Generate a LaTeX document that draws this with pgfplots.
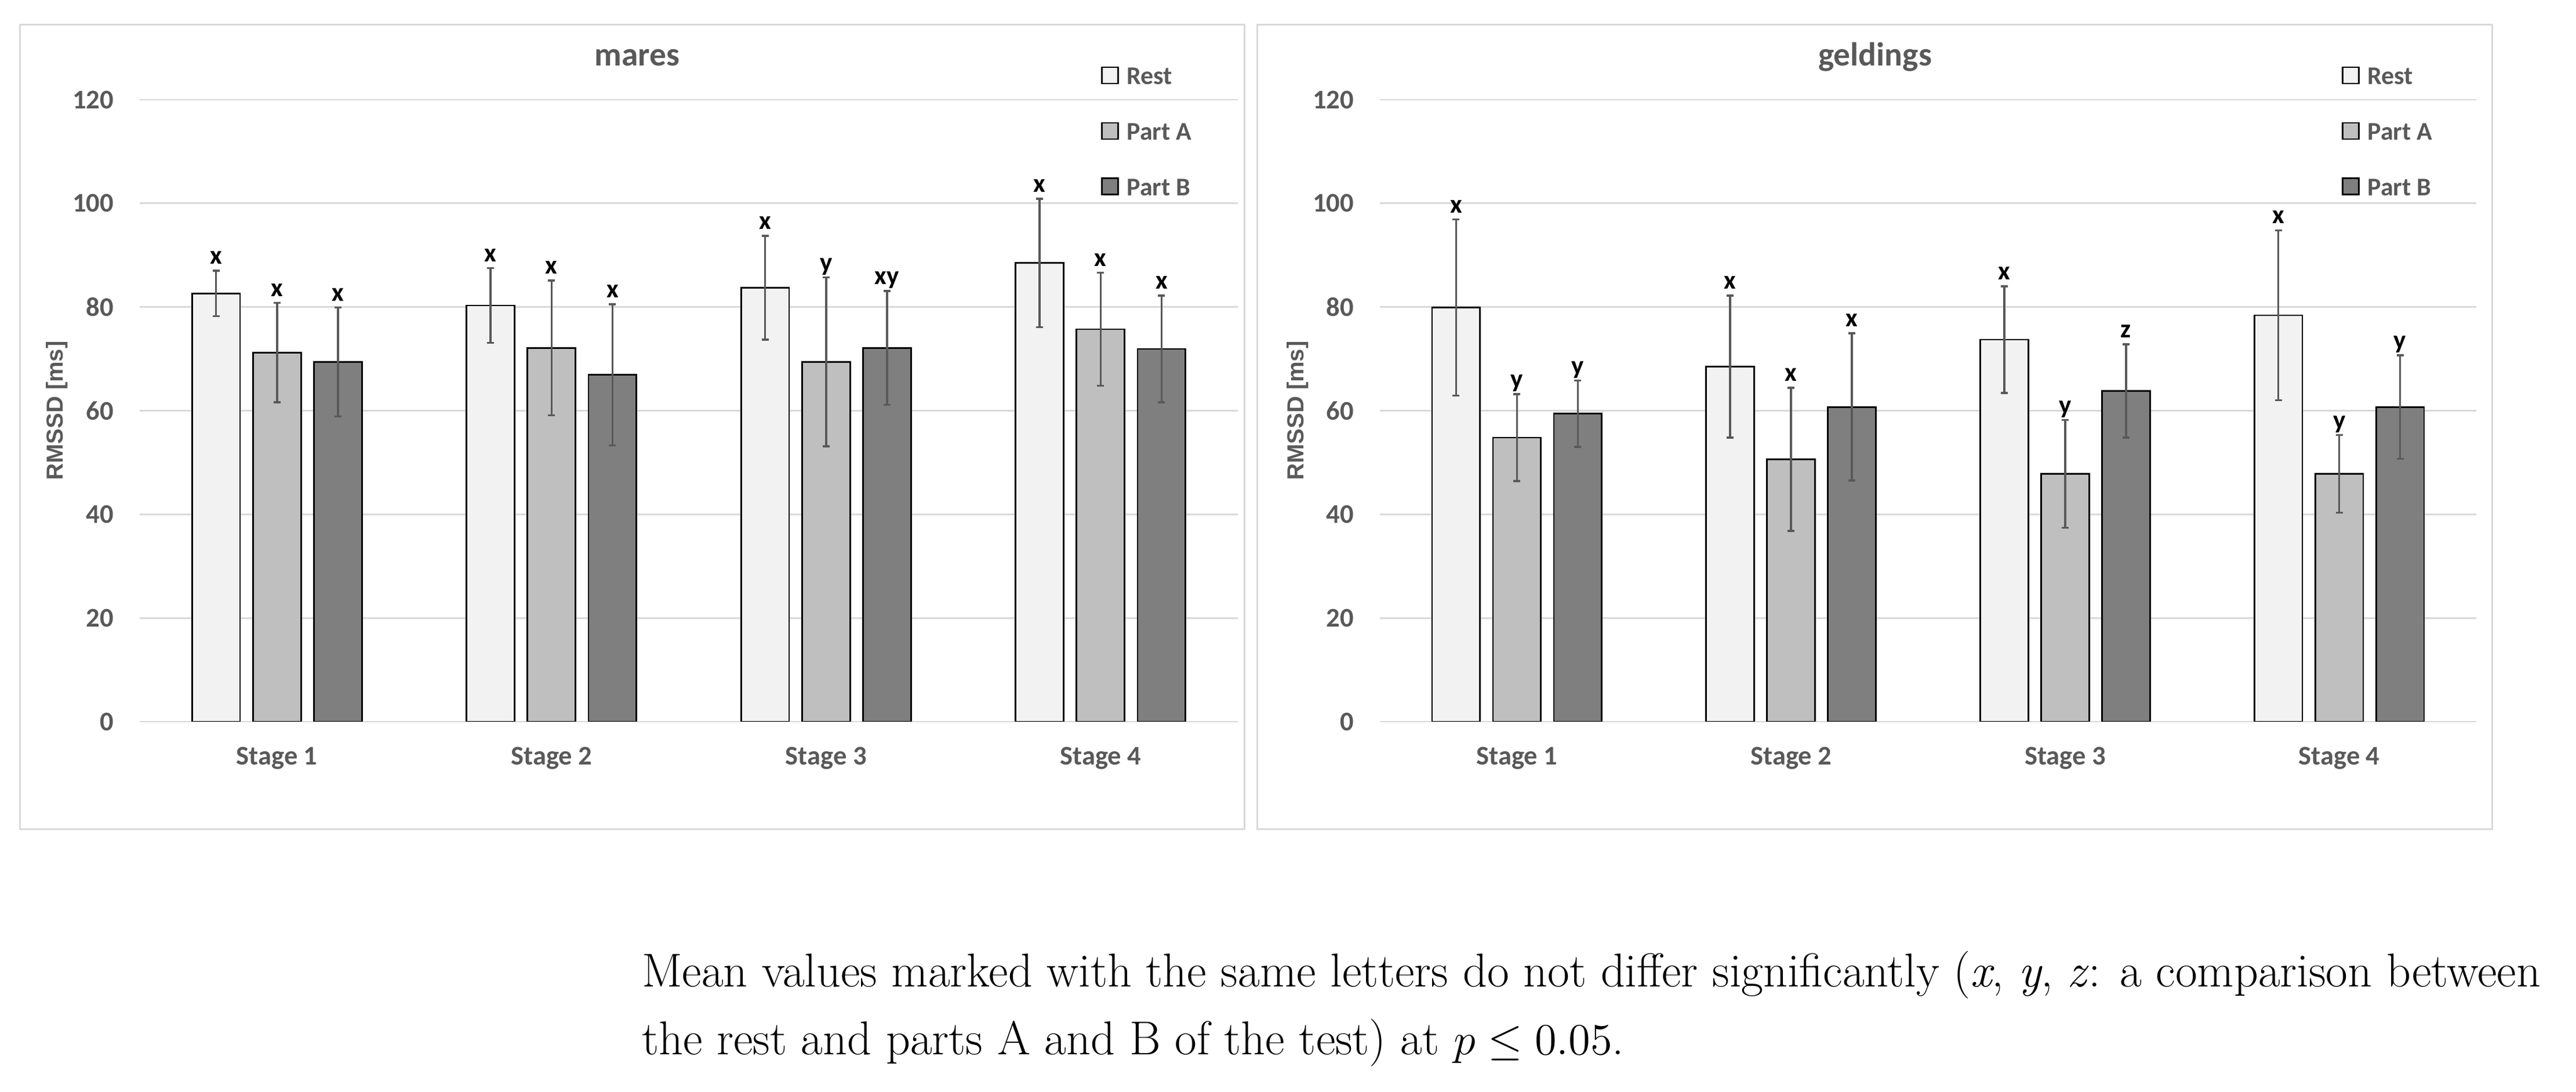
\documentclass[border=0pt]{standalone}
\usepackage{fontspec}
\usepackage{pgfplots}
\usepackage{pgfplotstable}
\pgfplotsset{compat=1.18}
\newfontfamily\carlito{Carlito}
\newfontfamily\libsans{Liberation Sans}
\definecolor{txtgray}{HTML}{595959}
\definecolor{restc}{HTML}{F2F2F2}
\definecolor{partac}{HTML}{BFBFBF}
\definecolor{partbc}{HTML}{7F7F7F}
\definecolor{gridc}{HTML}{D9D9D9}

\pgfplotstableread{
x R Re Rl A Ae Al B Be Bl
0 82.6 4.4 x 71.2 9.6 x 69.4 10.5 x
1 80.3 7.2 x 72.1 13.0 x 66.9 13.6 x
2 83.7 10.0 x 69.4 16.3 y 72.1 11.0 xy
3 88.5 12.4 x 75.7 10.9 x 71.9 10.3 x
}\mares

\pgfplotstableread{
x R Re Rl A Ae Al B Be Bl
0 79.9 17.0 x 54.8 8.4 y 59.4 6.4 y
1 68.5 13.7 x 50.6 13.8 x 60.7 14.2 x
2 73.7 10.3 x 47.8 10.4 y 63.8 9.0 z
3 78.4 16.4 x 47.8 7.5 y 60.7 10.0 y
}\geldings

\pgfplotsset{
  myaxis/.style={
    scale only axis, height=214.6pt,
    xmin=-0.5, xmax=3.5, ymin=0, ymax=120,
    ytick={0,20,40,60,80,100,120},
    xtick={0,1,2,3}, xticklabels={Stage 1,Stage 2,Stage 3,Stage 4},
    ymajorgrids, grid style={gridc, line width=0.55pt},
    axis line style={draw=none}, major tick length=0pt,
    /pgf/number format/assume math mode=true,
    ticklabel style={font=\carlito\bfseries\fontsize{9.3}{11}\selectfont, text=txtgray},
    yticklabel style={anchor=east, inner sep=0pt, xshift=-8.8pt},
    xticklabel style={anchor=base, inner sep=0pt, yshift=-15pt},
    ylabel={RMSSD [ms]},
    ylabel style={at={(axis description cs:-0.0697,0.5)}, anchor=base, inner sep=0pt,
      font=\libsans\bfseries\fontsize{8}{9.6}\selectfont, text=txtgray},
    every axis title shift=0pt,
    title style={anchor=base, inner sep=0pt,
      font=\carlito\bfseries\fontsize{11.5}{13}\selectfont, text=txtgray},
    legend style={anchor=north west, draw=none, fill=none, inner sep=0pt, outer sep=0pt,
      row sep=13pt, column sep=2.8pt,
      font=\carlito\bfseries\fontsize{8.8}{10}\selectfont, text=txtgray,
      nodes={inner sep=0pt, text height=5.6pt, text depth=0pt}},
    legend cell align=left,
  },
  mybar/.style n args={2}{
    ybar, bar width=0.175, bar shift=0, fill=#1, draw=black, line width=0.55pt,
    legend image code/.code={\draw[fill=#1, draw=black, line width=0.5pt, yshift=-0.25em] (0pt,0pt) rectangle (5.6pt,5.6pt);},
    error bars/y dir=both, error bars/y explicit,
    error bars/error bar style={txtgray, line width=0.7pt},
    error bars/error mark options={txtgray, line width=0.7pt, mark size=1.2pt, rotate=90},
    nodes near coords, point meta=explicit symbolic,
    visualization depends on={\thisrow{#2}\as\err},
    nodes near coords style={anchor=south, inner sep=0pt, text depth=2pt,
      font=\carlito\bfseries\fontsize{9}{10}\selectfont, text=black,
      shift={(axis direction cs:0,\err)}},
  },
}

\begin{document}
\begin{tikzpicture}
\useasboundingbox (0,0) rectangle (888.6pt,376.8pt);
\draw[gridc, line width=0.6pt] (6.8pt,90.6pt) rectangle (429.2pt,368.2pt);
\draw[gridc, line width=0.6pt] (433.6pt,90.6pt) rectangle (859.6pt,368.2pt);

\begin{axis}[myaxis, width=378.8pt, at={(48.2pt,127.8pt)}, anchor=south west,
  title={mares}, title style={at={(axis description cs:0.453,1.0541)}},
  legend style={at={(axis description cs:0.8754,1.0531)}}]
\addplot[mybar={restc}{Re}] table[x expr=\thisrow{x}-0.222, y=R, y error=Re, meta=Rl] {\mares};
\addlegendentry{Rest}
\addplot[mybar={partac}{Ae}] table[x=x, y=A, y error=Ae, meta=Al] {\mares};
\addlegendentry{Part A}
\addplot[mybar={partbc}{Be}] table[x expr=\thisrow{x}+0.222, y=B, y error=Be, meta=Bl] {\mares};
\addlegendentry{Part B}
\end{axis}

\begin{axis}[myaxis, width=378.2pt, at={(476pt,127.8pt)}, anchor=south west,
  title={geldings}, title style={at={(axis description cs:0.4516,1.0541)}},
  legend style={at={(axis description cs:0.8773,1.0531)}}]
\addplot[mybar={restc}{Re}] table[x expr=\thisrow{x}-0.222, y=R, y error=Re, meta=Rl] {\geldings};
\addlegendentry{Rest}
\addplot[mybar={partac}{Ae}] table[x=x, y=A, y error=Ae, meta=Al] {\geldings};
\addlegendentry{Part A}
\addplot[mybar={partbc}{Be}] table[x expr=\thisrow{x}+0.222, y=B, y error=Be, meta=Bl] {\geldings};
\addlegendentry{Part B}
\end{axis}

\node[anchor=base west, inner sep=0pt, scale=1.066, font=\fontsize{15.4}{18}\selectfont] at (221.2pt,36.2pt)
  {Mean values marked with the same letters do not differ significantly (\textit{x}, \textit{y}, \textit{z}: a comparison between};
\node[anchor=base west, inner sep=0pt, scale=1.066, font=\fontsize{15.4}{18}\selectfont] at (221.2pt,12.8pt)
  {the rest and parts A and B of the test) at $p \leq 0.05$.};
\end{tikzpicture}
\end{document}
